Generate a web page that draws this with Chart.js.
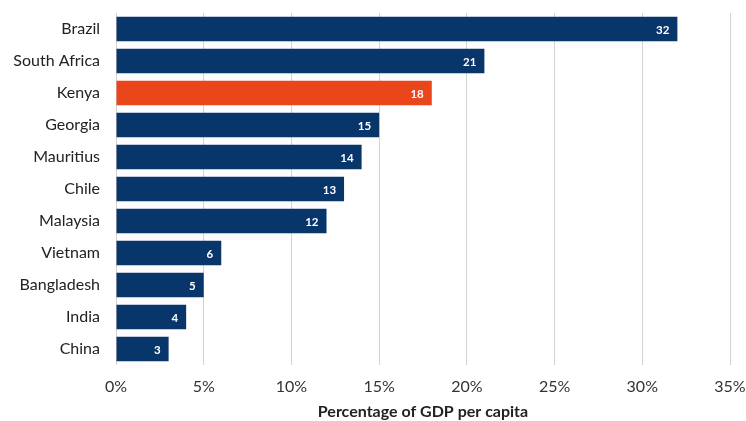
<!DOCTYPE html>
<html>
<head>
<meta charset="utf-8">
<script src="https://cdn.jsdelivr.net/npm/chart.js@4.4.1/dist/chart.umd.min.js"></script>
<style>
  html, body { margin: 0; padding: 0; background: #fff; }
  #wrap { width: 746px; height: 421px; position: relative; }
</style>
</head>
<body>
<div id="wrap"><canvas id="chart"></canvas></div>
<script>
var countries = ['Brazil', 'South Africa', 'Kenya', 'Georgia', 'Mauritius', 'Chile', 'Malaysia', 'Vietnam', 'Bangladesh', 'India', 'China'];
var gdpShare = [32, 21, 18, 15, 14, 13, 12, 6, 5, 4, 3];
var highlight = 'Kenya';
var xTicks = [0, 5, 10, 15, 20, 25, 30, 35];

var navy = '#08356a';
var orange = '#e9461c';
var fontFamily = 'Lato, "Open Sans", sans-serif';

// value labels drawn inside the end of each bar
var barValueLabels = {
    id: 'barValueLabels',
    afterDatasetsDraw: function(chart) {
        var ctx = chart.ctx;
        var meta = chart.getDatasetMeta(0);
        ctx.save();
        ctx.fillStyle = '#ffffff';
        ctx.font = 'bold 11.5px ' + fontFamily;
        ctx.textAlign = 'right';
        ctx.textBaseline = 'middle';
        meta.data.forEach(function(bar, i) {
            ctx.fillText(String(gdpShare[i]), bar.x - 8, bar.y + 1);
        });
        ctx.restore();
    }
};

new Chart(document.getElementById('chart').getContext('2d'), {
    type: 'bar',
    data: {
        labels: countries,
        datasets: [{
            data: gdpShare,
            backgroundColor: countries.map(function(c) { return c === highlight ? orange : navy; }),
            categoryPercentage: 0.76,
            barPercentage: 1
        }]
    },
    options: {
        indexAxis: 'y',
        responsive: true,
        maintainAspectRatio: false,
        animation: false,
        layout: { padding: { top: 13, right: 16, left: 0, bottom: 0 } },
        plugins: {
            legend: { display: false },
            tooltip: { enabled: false }
        },
        scales: {
            x: {
                min: 0,
                max: 35,
                afterBuildTicks: function(scale) {
                    scale.ticks = xTicks.map(function(v) { return { value: v }; });
                },
                afterFit: function(scale) {
                    scale.height = 56;
                    scale.paddingLeft = 0;
                    scale.paddingRight = 0;
                },
                grid: { color: '#d2d2d2', lineWidth: 1, drawTicks: false },
                border: { display: false },
                ticks: {
                    padding: 12,
                    color: '#333',
                    font: { family: fontFamily, size: 16 },
                    callback: function(v) { return v + '%'; }
                },
                title: {
                    display: true,
                    text: 'Percentage of GDP per capita',
                    color: '#222',
                    font: { family: fontFamily, size: 16, weight: 'bold' },
                    padding: { top: 4, bottom: 0 }
                }
            },
            y: {
                afterFit: function(scale) {
                    scale.width = 116;
                    scale.paddingTop = 0;
                    scale.paddingBottom = 0;
                },
                grid: { display: false, drawTicks: false },
                border: { display: false },
                ticks: {
                    padding: 16,
                    color: '#222',
                    font: { family: fontFamily, size: 16 }
                }
            }
        }
    },
    plugins: [barValueLabels]
});
</script>
</body>
</html>
